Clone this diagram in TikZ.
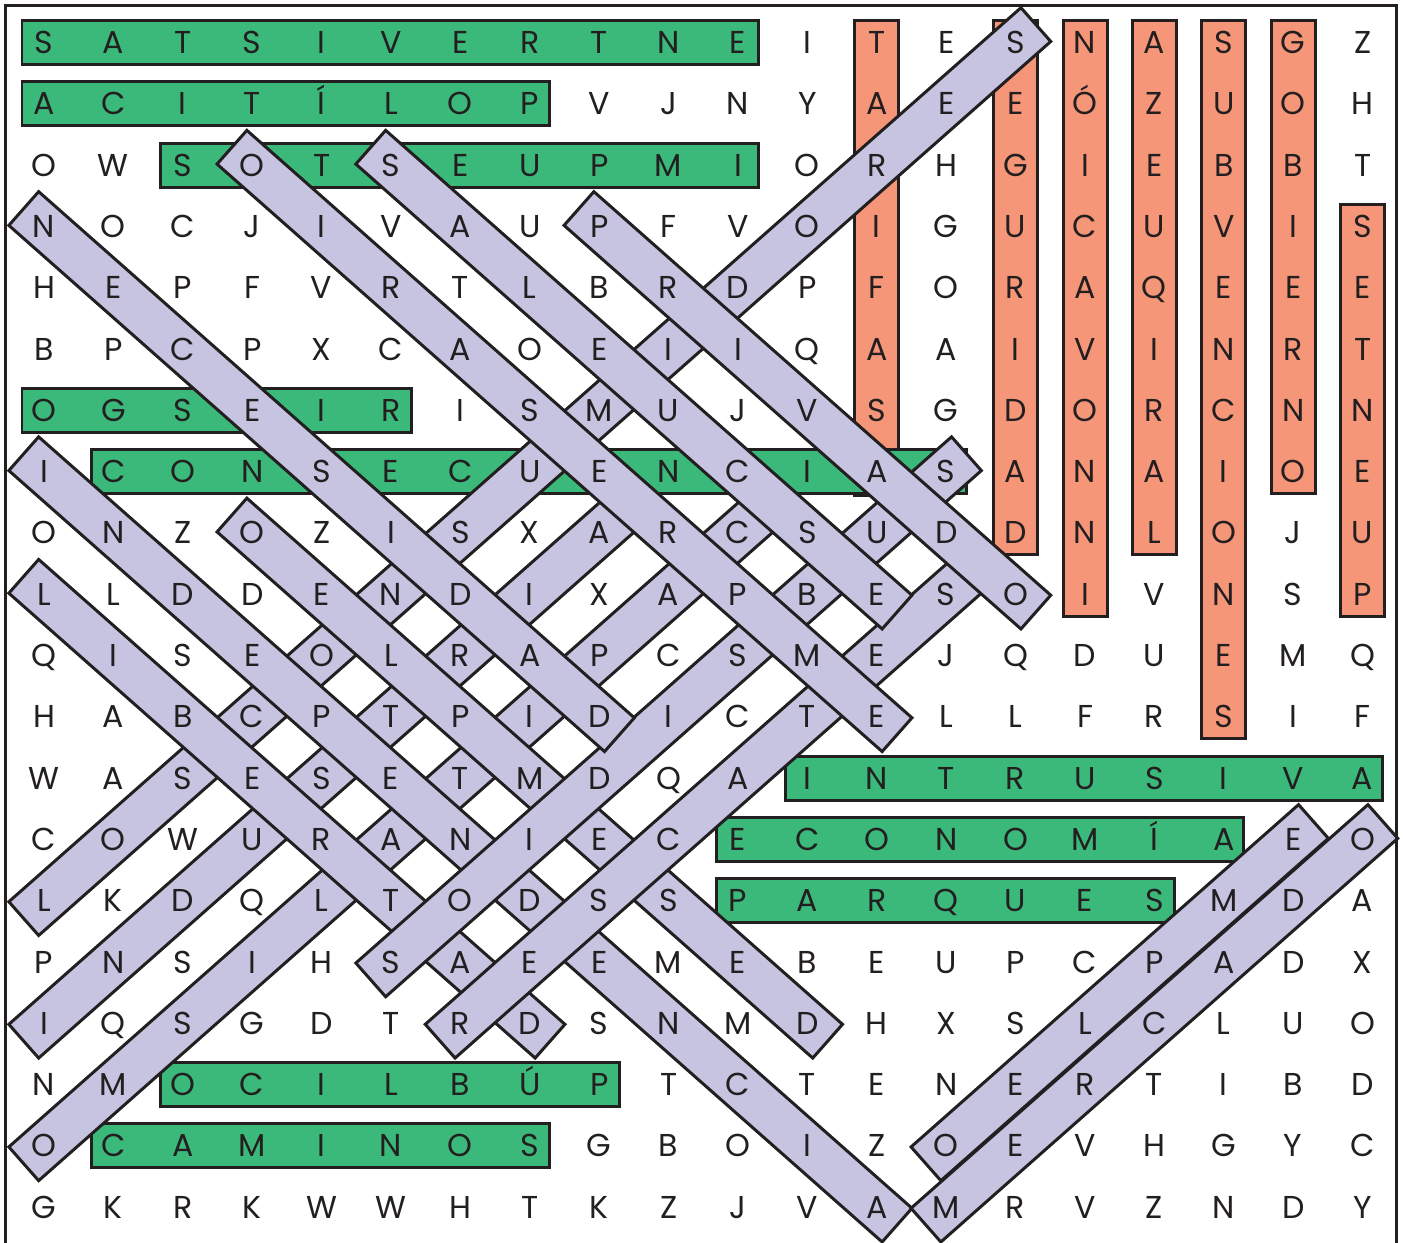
\documentclass[tikz,border=0pt]{standalone}
\usepackage{fontspec}
\setmainfont{Poppins}
\usetikzlibrary{calc}
\pgfdeclarelayer{marks}
\pgfsetlayers{marks,main}

\definecolor{wordgreen}{RGB}{59,185,122}
\definecolor{wordorange}{RGB}{246,150,120}
\definecolor{wordlilac}{RGB}{198,196,224}
\definecolor{ink}{RGB}{35,31,32}

\begin{document}
\begin{tikzpicture}[x = 0.01cm, y = -0.01cm,
  letter/.style = {inner sep = 0pt, text height = 6.3pt, text depth = 0pt,
    font = \fontsize{9}{9}\selectfont, text = ink},
  across/.style = {draw = ink, line width = 0.85pt, fill = wordgreen},
  down/.style = {draw = ink, line width = 0.85pt, fill = wordorange},
  slant/.style = {draw = ink, line width = 0.85pt, fill = wordlilac}]
\useasboundingbox (0, 0) rectangle (1403, 1243);
\clip (0, 0) rectangle (1403, 1243);

\foreach \row [count = \r from 0] in {
  {S,A,T,S,I,V,E,R,T,N,E,I,T,E,S,N,A,S,G,Z},
  {A,C,I,T,Í,L,O,P,V,J,N,Y,A,E,E,Ó,Z,U,O,H},
  {O,W,S,O,T,S,E,U,P,M,I,O,R,H,G,I,E,B,B,T},
  {N,O,C,J,I,V,A,U,P,F,V,O,I,G,U,C,U,V,I,S},
  {H,E,P,F,V,R,T,L,B,R,D,P,F,O,R,A,Q,E,E,E},
  {B,P,C,P,X,C,A,O,E,I,I,Q,A,A,I,V,I,N,R,T},
  {O,G,S,E,I,R,I,S,M,U,J,V,S,G,D,O,R,C,N,N},
  {I,C,O,N,S,E,C,U,E,N,C,I,A,S,A,N,A,I,O,E},
  {O,N,Z,O,Z,I,S,X,A,R,C,S,U,D,D,N,L,O,J,U},
  {L,L,D,D,E,N,D,I,X,A,P,B,E,S,O,I,V,N,S,P},
  {Q,I,S,E,O,L,R,A,P,C,S,M,E,J,Q,D,U,E,M,Q},
  {H,A,B,C,P,T,P,I,D,I,C,T,E,L,L,F,R,S,I,F},
  {W,A,S,E,S,E,T,M,D,Q,A,I,N,T,R,U,S,I,V,A},
  {C,O,W,U,R,A,N,I,E,C,E,C,O,N,O,M,Í,A,E,O},
  {L,K,D,Q,L,T,O,D,S,S,P,A,R,Q,U,E,S,M,D,A},
  {P,N,S,I,H,S,A,E,E,M,E,B,E,U,P,C,P,A,D,X},
  {I,Q,S,G,D,T,R,D,S,N,M,D,H,X,S,L,C,L,U,O},
  {N,M,O,C,I,L,B,Ú,P,T,C,T,E,N,E,R,T,I,B,D},
  {O,C,A,M,I,N,O,S,G,B,O,I,Z,O,E,V,H,G,Y,C},
  {G,K,R,K,W,W,H,T,K,Z,J,V,A,M,R,V,Z,N,D,Y}}
  \foreach \ch [count = \c from 0] in \row
    \node[letter] (l-\r-\c) at ({44 + 69.4*\c}, {42.5 + 61.3*\r}) {\ch};

\begin{pgfonlayer}{marks}
\foreach \c/\a/\b/\d in {12/0/7/24, 14/0/8/22, 15/0/9/22, 16/0/8/22,
    17/0/11/22, 18/0/7/22, 19/3/9/22}
  \filldraw[down] ($(l-\a-\c.center) + (-22, -22)$) rectangle ($(l-\b-\c.center) + (22, \d)$);
\foreach \r/\a/\b in {0/0/10, 1/0/7, 2/2/10, 6/0/5, 7/1/13, 12/11/19,
    13/10/17, 14/10/16, 17/2/8, 18/1/7}
  \filldraw[across] ($(l-\r-\a.center) + (-22, -22)$) rectangle ($(l-\r-\b.center) + (20, 22)$);
\foreach \a/\b in {l-14-0/l-0-14, l-16-0/l-8-8, l-18-0/l-8-10, l-9-0/l-16-7,
    l-8-3/l-16-11, l-7-0/l-19-12, l-15-5/l-7-13, l-16-6/l-9-13,
    l-3-0/l-11-8, l-2-3/l-11-12, l-2-5/l-9-12, l-3-8/l-9-14,
    l-18-13/l-13-18, l-19-13/l-13-19} {
  \coordinate (s) at ($(\a.center)!-0.27cm!(\b.center)$);
  \coordinate (e) at ($(\b.center)!-0.27cm!(\a.center)$);
  \filldraw[slant] ($(s)!0.225cm!90:(e)$) -- ($(s)!0.225cm!-90:(e)$)
    -- ($(e)!0.225cm!90:(s)$) -- ($(e)!0.225cm!-90:(s)$) -- cycle;
}
\end{pgfonlayer}

\draw[ink, line width = 0.85pt] (5.5, 1260) -- (5.5, 5.5) -- (1396, 5.5) -- (1396, 1260);
\end{tikzpicture}
\end{document}
